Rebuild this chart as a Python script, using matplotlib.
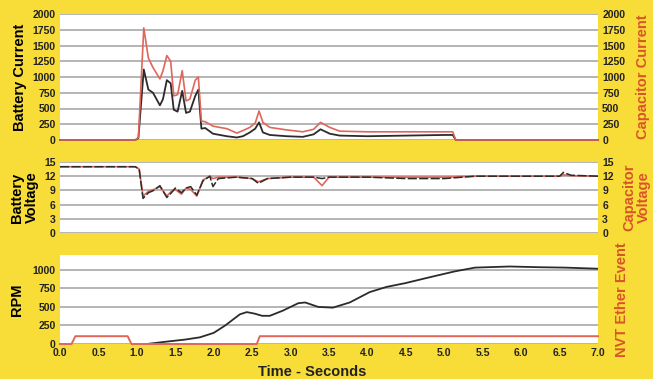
import matplotlib
matplotlib.use("Agg")
import matplotlib.pyplot as plt
from matplotlib.ticker import FormatStrFormatter

# --> Data
t_cur = [0, 0.98, 1.02, 1.09, 1.15, 1.21, 1.30, 1.34, 1.39, 1.44, 1.48, 1.53, 1.59, 1.64, 1.69,
         1.76, 1.80, 1.84, 1.89, 1.99, 2.17, 2.30, 2.38, 2.47, 2.54, 2.59, 2.64, 2.73, 2.95, 3.16,
         3.30, 3.39, 3.51, 3.64, 4.0, 4.5, 5.0, 5.11, 5.15, 7.0]
battery_current = [0, 0, 30, 1120, 800, 750, 550, 650, 950, 900, 480, 450, 780, 430, 450,
                   700, 800, 180, 190, 100, 60, 40, 60, 120, 180, 280, 120, 80, 60, 50,
                   90, 170, 100, 70, 60, 70, 80, 80, 0, 0]
capacitor_current = [0, 0, 40, 1780, 1300, 1150, 970, 1100, 1340, 1250, 700, 720, 1100, 620, 650,
                     950, 1000, 300, 290, 220, 180, 110, 150, 200, 270, 460, 280, 200, 160, 130,
                     170, 280, 200, 140, 130, 130, 130, 130, 0, 0]

t_volt = [0, 0.5, 0.98, 1.03, 1.08, 1.15, 1.22, 1.30, 1.39, 1.45, 1.50, 1.58, 1.64, 1.70, 1.78,
          1.86, 1.95, 1.99, 2.06, 2.3, 2.5, 2.58, 2.7, 3.0, 3.3, 3.41, 3.5, 4.0, 4.5, 5.0,
          5.4, 6.0, 6.5, 6.55, 6.65, 7.0]
battery_voltage = [14, 14, 14, 13.5, 7.3, 8.5, 9, 10, 7.5, 8.5, 9.5, 8.5, 9.5, 9.8, 8,
                   11, 12, 9.8, 11.5, 11.8, 11.5, 10.5, 11.5, 11.8, 11.8, 11.5, 11.8, 11.8, 11.5, 11.5,
                   12, 12, 12, 12.8, 12.2, 12]
capacitor_voltage = [14, 14, 14, 13.5, 7.8, 8.8, 9.2, 9.8, 7.8, 8.8, 9.2, 8.2, 9.5, 9.2, 7.8,
                     11.2, 12, 11.5, 11.8, 11.8, 11.5, 10.8, 11.5, 11.8, 11.8, 10.0, 11.8, 11.8, 11.8, 11.8,
                     12, 12, 12, 12.3, 12.1, 12]

t_rpm = [1.13, 1.37, 1.63, 1.82, 2.0, 2.15, 2.34, 2.43, 2.53, 2.63, 2.73, 2.9, 3.1, 3.19,
         3.36, 3.55, 3.77, 4.03, 4.25, 4.49, 4.81, 5.14, 5.4, 5.85, 6.25, 6.57, 7.0]
rpm = [0, 30, 60, 90, 150, 250, 400, 430, 410, 380, 380, 450, 550, 560,
       500, 490, 560, 700, 770, 820, 900, 980, 1030, 1045, 1035, 1030, 1015]

t_event = [0, 0.15, 0.2, 0.88, 0.93, 2.56, 2.6, 7.0]
ether_event = [0, 0, 1, 1, 0, 0, 1, 1]

x_ticks = [i * 0.5 for i in range(15)]

# --> Style
YELLOW = '#F8DC38'
BLACK = '#2b2b2b'
RED = '#E0665A'
LABEL_RED = '#D9552A'
GRID = '#A8A8A8'
TICK_SIZE = 7.5
LABEL_SIZE = 10.5

plt.rcParams['font.family'] = ['Liberation Sans', 'DejaVu Sans']
plt.rcParams['font.weight'] = 'bold'

fig = plt.figure(figsize=(6.53, 3.79), dpi=100, facecolor=YELLOW)


def style_axis(ax, yticks):
    ax.set_facecolor('white')
    for s in ax.spines.values():
        s.set_visible(False)
    ax.set_yticks(yticks)
    ax.grid(axis='y', color=GRID, linewidth=1.2)
    ax.set_axisbelow(True)
    ax.tick_params(length=0, labelsize=TICK_SIZE, colors='#222222', pad=3)
    ax.set_xlim(0, 7)


def style_twin(ax, yticks):
    for s in ax.spines.values():
        s.set_visible(False)
    ax.set_yticks(yticks)
    ax.tick_params(length=0, labelsize=TICK_SIZE, colors='#222222', pad=3)


left, width = 60 / 653, 538 / 653

# --> Panel 1: currents
ax1 = fig.add_axes([left, 1 - 140 / 379, width, 126 / 379])
style_axis(ax1, range(0, 2001, 250))
ax1.set_ylim(0, 2000)
ax1.set_xticks([])
ax1.plot(t_cur, battery_current, color=BLACK, lw=1.3, clip_on=False)
ax1.set_ylabel('Battery Current', fontsize=LABEL_SIZE, fontweight='bold', labelpad=4)
ax1r = ax1.twinx()
style_twin(ax1r, range(0, 2001, 250))
ax1r.set_ylim(0, 2000)
ax1r.plot(t_cur, capacitor_current, color=RED, lw=1.2, clip_on=False)
ax1r.set_ylabel('Capacitor Current', fontsize=LABEL_SIZE, fontweight='bold', color=LABEL_RED, labelpad=8)

# --> Panel 2: voltages
ax2 = fig.add_axes([left, 1 - 233 / 379, width, 71 / 379])
style_axis(ax2, range(0, 16, 3))
ax2.set_ylim(0, 15)
ax2.set_xticks([])
ax2r = ax2.twinx()
style_twin(ax2r, range(0, 16, 3))
ax2r.set_ylim(0, 15)
ax2r.plot(t_volt, capacitor_voltage, color=RED, lw=1.2)
ax2r.plot(t_volt, battery_voltage, color=BLACK, lw=1.1, dashes=(6, 1.5))
ax2.set_ylabel('Battery\nVoltage', fontsize=LABEL_SIZE, fontweight='bold', labelpad=4, linespacing=1.1)
ax2r.set_ylabel('Capacitor\nVoltage', fontsize=LABEL_SIZE, fontweight='bold', color=LABEL_RED,
                labelpad=6, linespacing=1.1)

# --> Panel 3: RPM and ether event
ax3 = fig.add_axes([left, 1 - 344 / 379, width, 89 / 379])
style_axis(ax3, range(0, 1001, 250))
ax3.set_ylim(0, 1200)
ax3.set_xticks(x_ticks)
ax3.xaxis.set_major_formatter(FormatStrFormatter('%.1f'))
ax3.plot(t_rpm, rpm, color=BLACK, lw=1.3)
ax3.set_ylabel('RPM', fontsize=LABEL_SIZE, fontweight='bold', labelpad=6)
ax3r = ax3.twinx()
style_twin(ax3r, [])
ax3r.set_ylim(0, 11.4)
ax3r.plot(t_event, ether_event, color=RED, lw=1.4, clip_on=False)
ax3r.set_ylabel('NVT Ether Event', fontsize=LABEL_SIZE, fontweight='bold', color=LABEL_RED, labelpad=12)

fig.text(312 / 653, 1 - 372 / 379, 'Time - Seconds', ha='center', va='center',
         fontsize=LABEL_SIZE, fontweight='bold', color='#222222')

fig.savefig('out.png', dpi=100, facecolor=YELLOW)
